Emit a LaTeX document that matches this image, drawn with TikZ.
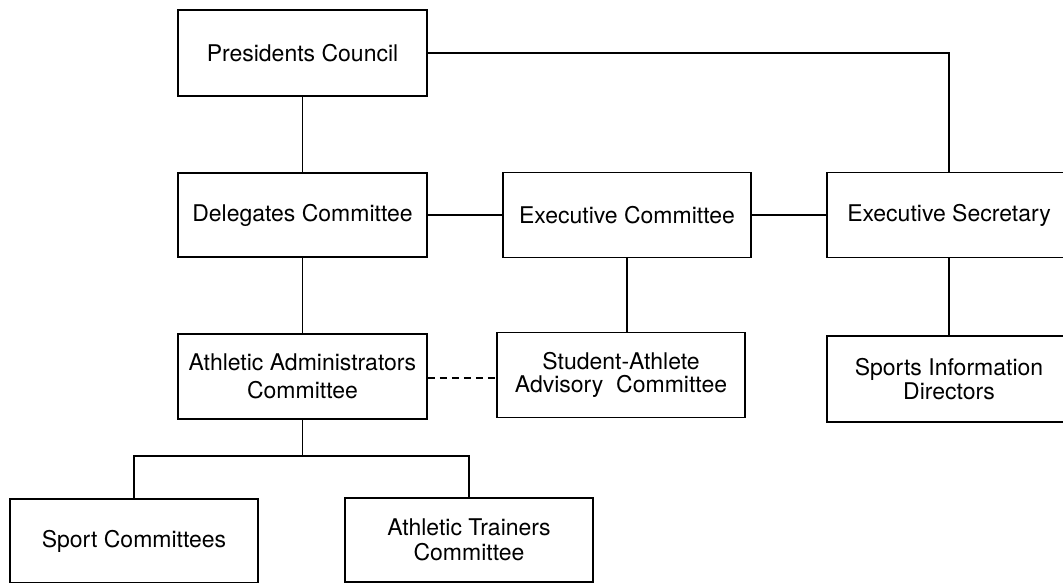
\documentclass[tikz,border=0pt]{standalone}
\usepackage{fontspec}
\setmainfont{TeX Gyre Heros}
\begin{document}
\begin{tikzpicture}[x=1pt,y=-1pt,
  box/.style={draw, line width=1.5pt, rectangle, inner sep=0pt,
    minimum width=249pt, minimum height=85pt, align=center,
    font=\fontsize{23}{25}\selectfont},
  link/.style={line width=1.6pt},
  softlink/.style={line width=1.5pt, dash pattern=on 7pt off 5pt}]
  \clip (0,0) rectangle (1063,582);
  \fill[white] (0,0) rectangle (1063,582);

  % top row
  \node[box, minimum height=86pt] (pc) at (302.5,53) {Presidents Council};

  % second row
  \node[box, minimum height=84pt] (dc) at (302.5,215) {Delegates Committee};
  \node[box, minimum width=248pt] (ec) at (627,215) {Executive Committee};
  \node[box, minimum width=244pt] (es) at (949,215) {Executive Secretary};

  % third row
  \node[box, font=\fontsize{23}{27.7}\selectfont] (aac) at (302.5,376.5)
    {\raisebox{-2pt}{\parbox{240pt}{\centering Athletic Administrators\\Committee}}};
  \node[box, minimum width=248pt, font=\fontsize{23}{22.5}\selectfont] (saac) at (621,375)
    {Student-Athlete\\Advisory~~Committee};
  \node[box, minimum width=244pt, minimum height=86pt, font=\fontsize{23}{24}\selectfont] (sid) at (949,379)
    {Sports Information\\Directors};

  % bottom row
  \node[box, minimum width=248pt, minimum height=84pt] (sc) at (134,541) {Sport Committees};
  \node[box, minimum width=248pt, minimum height=84pt] (atc) at (469,540) {Athletic Trainers\\Committee};

  % connectors
  \draw[link] (pc.south) -- (dc.north);
  \draw[link] (pc.east) -| (es.north);
  \draw[link] (dc.east) -- (ec.west);
  \draw[link] (ec.east) -- (es.west);
  \draw[link] (dc.south) -- (aac.north);
  \draw[link] (ec.south) -- (ec.south |- saac.north);
  \draw[link] (es.south) -- (sid.north);
  \draw[softlink] (aac.east |- 0,378) -- (saac.west |- 0,378);
  \draw[link] (aac.south) -- ++(0,36) coordinate (fork);
  \draw[link] (sc.north) |- (fork) -| (atc.north);
\end{tikzpicture}
\end{document}
